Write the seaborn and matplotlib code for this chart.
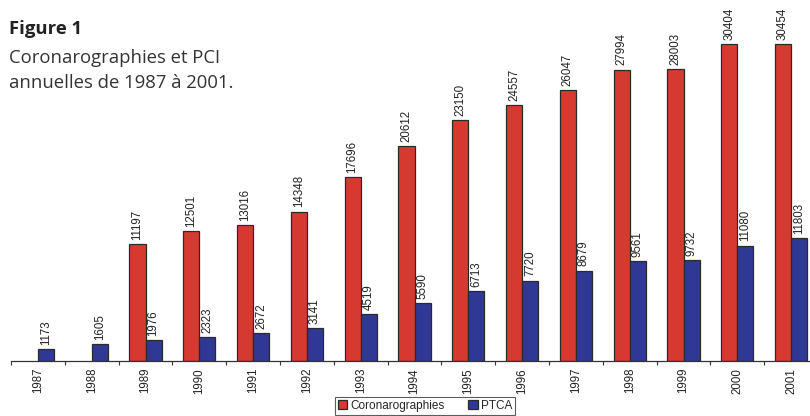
import numpy as np
import pandas as pd
import matplotlib
matplotlib.use("Agg")
import matplotlib.pyplot as plt
import seaborn as sns

years = ["1987", "1988", "1989", "1990", "1991", "1992", "1993", "1994",
         "1995", "1996", "1997", "1998", "1999", "2000", "2001"]
coronarographies = [np.nan, np.nan, 11197, 12501, 13016, 14348, 17696, 20612,
                    23150, 24557, 26047, 27994, 28003, 30404, 30454]
ptca = [1173, 1605, 1976, 2323, 2672, 3141, 4519, 5590,
        6713, 7720, 8679, 9561, 9732, 11080, 11803]
series = ["Coronarographies", "PTCA"]
colors = ["#d6392f", "#2f3894"]

df = pd.DataFrame({
    "Année": years * 2,
    "Nombre": coronarographies + ptca,
    "Série": [series[0]] * len(years) + [series[1]] * len(years),
})

sns.set_theme(style="white")
plt.rcParams["font.family"] = ["Liberation Sans", "DejaVu Sans"]

W, H = 810, 416
fig = plt.figure(figsize=(W / 100, H / 100), dpi=100)
# axes: baseline at y=361 px, first category boundary at x=11 px
ax = fig.add_axes([11 / W, 55 / H, 807 / W, 354 / H])

sns.barplot(data=df, x="Année", y="Nombre", hue="Série", hue_order=series,
            palette=colors, width=0.6, gap=0, saturation=1,
            edgecolor="#2a2a2a", linewidth=0.9, ax=ax, legend=True)

for cont in ax.containers:
    ax.bar_label(cont,
                 labels=[("" if np.isnan(v) else f"{int(v)}") for v in cont.datavalues],
                 rotation=90, padding=3, fontsize=8.3, color="#222222")

ax.set_xlim(-0.5, len(years) - 0.5)
ax.set_ylim(0, 34000)
ax.set_xlabel("")
ax.set_ylabel("")
ax.set_yticks([])
for s in ["top", "right", "left"]:
    ax.spines[s].set_visible(False)
ax.spines["bottom"].set_color("#333333")
ax.spines["bottom"].set_linewidth(0.9)

ax.set_xticks(np.arange(len(years)))
ax.set_xticklabels(years, rotation=90, fontsize=8.3, color="#222222")
ax.set_xticks(np.arange(len(years) + 1) - 0.5, minor=True)
ax.tick_params(axis="x", which="major", length=0, pad=5)
ax.tick_params(axis="x", which="minor", length=3, width=0.8, color="#333333",
               direction="out", bottom=True)

leg = ax.legend(loc="lower center", bbox_to_anchor=(425 / W, 0.0),
                bbox_transform=fig.transFigure, ncol=2, frameon=True,
                fancybox=False, fontsize=8.5, handlelength=0.8, handleheight=0.8,
                handletextpad=0.25, columnspacing=2.0, borderpad=0.25,
                borderaxespad=0.1)
leg.get_frame().set_edgecolor("#333333")
leg.get_frame().set_linewidth(0.8)

fig.text(9 / W, 1 - 34 / H, "Figure 1", fontsize=13.3, fontweight="bold",
         family=["Open Sans", "DejaVu Sans"], color="#222222")
fig.text(9 / W, 1 - 63 / H, "Coronarographies et PCI", fontsize=13.3,
         family=["Open Sans", "DejaVu Sans"], color="#333333")
fig.text(9 / W, 1 - 88.5 / H, "annuelles de 1987 à 2001.", fontsize=13.3,
         family=["Open Sans", "DejaVu Sans"], color="#333333")

fig.savefig("out.png", dpi=100, facecolor="white")
